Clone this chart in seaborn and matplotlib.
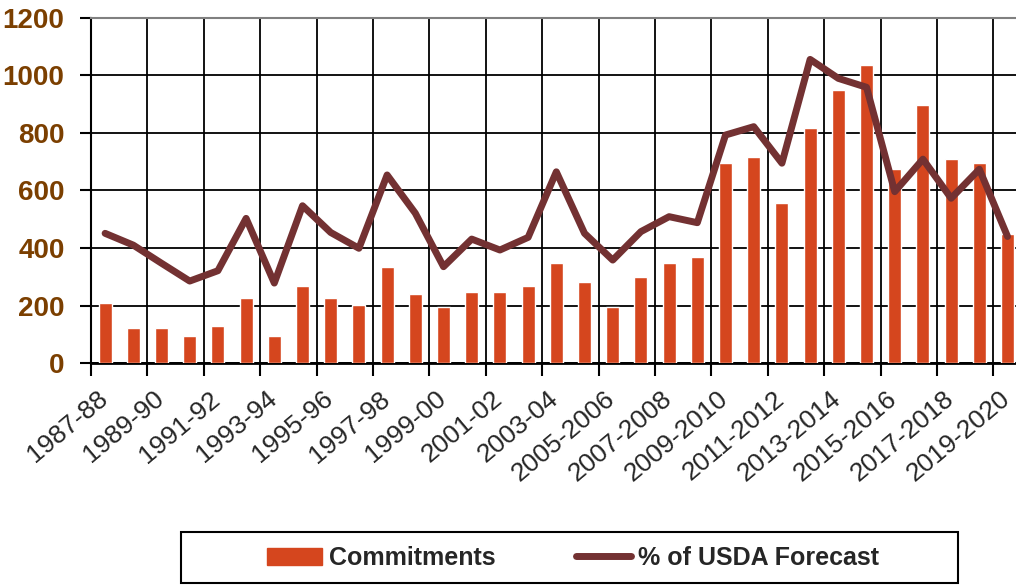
import matplotlib
matplotlib.use("Agg")
import matplotlib.pyplot as plt
import matplotlib.patches as mpatches
from matplotlib.lines import Line2D
import seaborn as sns
import numpy as np

seasons = [
    "1987-88", "1988-89", "1989-90", "1990-91", "1991-92", "1992-93", "1993-94",
    "1994-95", "1995-96", "1996-97", "1997-98", "1998-99", "1999-00", "2000-01",
    "2001-02", "2002-03", "2003-04", "2004-05", "2005-2006", "2006-2007",
    "2007-2008", "2008-2009", "2009-2010", "2010-2011", "2011-2012", "2012-2013",
    "2013-2014", "2014-2015", "2015-2016", "2016-2017", "2017-2018", "2018-2019",
    "2019-2020",
]
commitments = [
    210, 123, 123, 94, 130, 225, 94, 268, 225, 203, 333, 239, 196, 246, 246,
    268, 347, 282, 196, 298, 347, 370, 695, 718, 558, 819, 950, 1036, 674,
    899, 709, 695, 449,
]
pct_usda = [
    451, 410, 347, 285, 321, 503, 278, 547, 454, 399, 654, 521, 335, 431, 393,
    437, 665, 451, 358, 457, 509, 488, 793, 822, 695, 1056, 990, 959, 596,
    709, 573, 674, 440,
]

bar_color = "#D5461E"
line_color = "#733132"
label_color = "#7B3F00"

sns.set_style("white")
plt.rcParams["font.family"] = ["Liberation Sans", "DejaVu Sans"]

fig = plt.figure(figsize=(10.16, 5.85), dpi=100)
ax = fig.add_axes([91 / 1016, 1 - 363 / 585, 1 - 91 / 1016, (363 - 18) / 585])

pos = np.arange(len(seasons))
sns.barplot(x=pos, y=commitments, native_scale=True, width=0.46,
            color=bar_color, saturation=1, ax=ax, zorder=3)
sns.lineplot(x=pos, y=pct_usda, color=line_color, linewidth=5,
             solid_capstyle="round", solid_joinstyle="round", ax=ax, zorder=4)

ax.set_xlim(-0.5, 32.3)
ax.set_ylim(0, 1200)

# grid + ticks
ax.set_yticks(range(0, 1201, 200))
ax.set_yticklabels([str(v) for v in range(0, 1201, 200)], fontsize=20,
                   fontweight="bold", color=label_color)
ax.set_xticks(np.arange(-0.5, 32, 2))
ax.set_xticklabels([])
# labels sit slightly left of the category centre, as in the original
ax.set_xticks(pos[::2] - 0.3, minor=True)
ax.set_xticklabels(seasons[::2], minor=True, rotation=40, ha="right",
                   rotation_mode="anchor", fontsize=19)
ax.tick_params(axis="x", which="major", direction="out", length=9, width=1.5,
               color="black", bottom=True)
ax.tick_params(axis="x", which="minor", length=0, pad=17)
ax.tick_params(axis="y", direction="out", length=8, width=1.5, color="black",
               left=True, pad=11)
ax.grid(True, which="major", color="black", linewidth=1.3, zorder=0)
ax.set_axisbelow(True)

for s in ["left", "bottom"]:
    ax.spines[s].set_color("black")
ax.spines["left"].set_linewidth(1.5)
ax.spines["bottom"].set_linewidth(2)
ax.spines["top"].set_color("#808080")
ax.spines["top"].set_linewidth(1.5)
ax.spines["right"].set_visible(False)

# legend
fig.patches.append(mpatches.Rectangle((181 / 1016, 2 / 585), 777 / 1016, 51 / 585,
                                      transform=fig.transFigure, fill=False,
                                      edgecolor="black", linewidth=1.5))
handles = [mpatches.Patch(color=bar_color, label="Commitments"),
           Line2D([], [], color=line_color, linewidth=5, solid_capstyle="round",
                  label="% of USDA Forecast")]
fig.legend(handles=handles, loc="center", bbox_to_anchor=(573 / 1016, 1 - 558 / 585),
           ncol=2, frameon=False, prop={"size": 18, "weight": "bold"},
           handlelength=2.2, handletextpad=0.3, columnspacing=3.2)

fig.savefig("out.png", dpi=100)
